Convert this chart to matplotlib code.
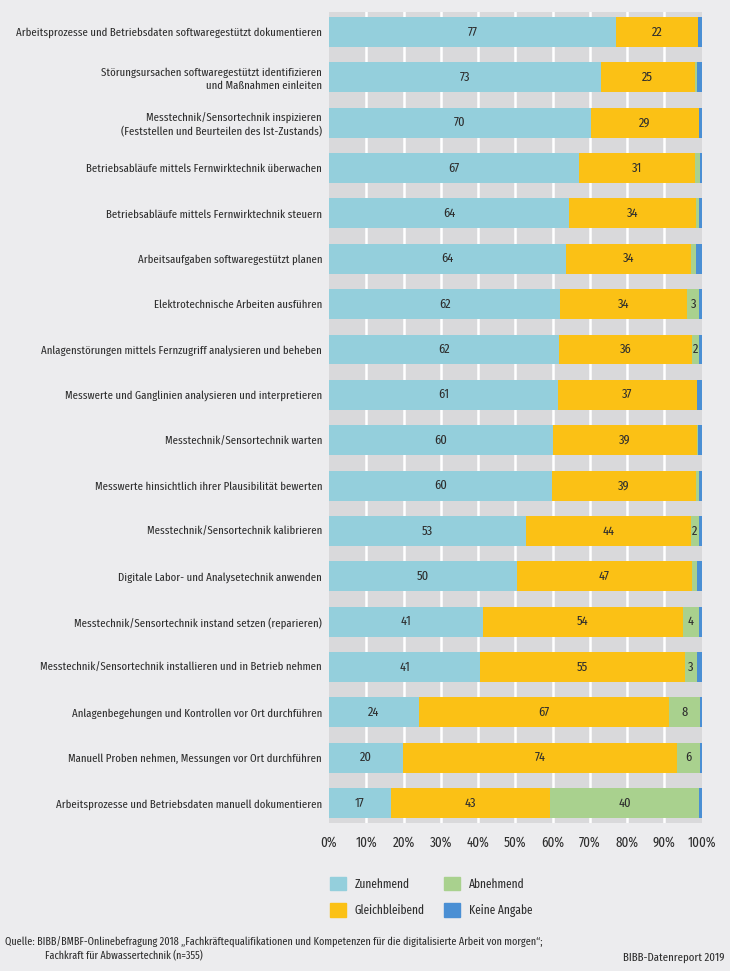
import matplotlib.pyplot as plt
from matplotlib import font_manager
from matplotlib.patches import Patch

# Daten (in Prozent, von oben nach unten)
taetigkeiten = [
    "Arbeitsprozesse und Betriebsdaten softwaregestützt dokumentieren",
    "Störungsursachen softwaregestützt identifizieren\nund Maßnahmen einleiten",
    "Messtechnik/Sensortechnik inspizieren\n(Feststellen und Beurteilen des Ist-Zustands)",
    "Betriebsabläufe mittels Fernwirktechnik überwachen",
    "Betriebsabläufe mittels Fernwirktechnik steuern",
    "Arbeitsaufgaben softwaregestützt planen",
    "Elektrotechnische Arbeiten ausführen",
    "Anlagenstörungen mittels Fernzugriff analysieren und beheben",
    "Messwerte und Ganglinien analysieren und interpretieren",
    "Messtechnik/Sensortechnik warten",
    "Messwerte hinsichtlich ihrer Plausibilität bewerten",
    "Messtechnik/Sensortechnik kalibrieren",
    "Digitale Labor- und Analysetechnik anwenden",
    "Messtechnik/Sensortechnik instand setzen (reparieren)",
    "Messtechnik/Sensortechnik installieren und in Betrieb nehmen",
    "Anlagenbegehungen und Kontrollen vor Ort durchführen",
    "Manuell Proben nehmen, Messungen vor Ort durchführen",
    "Arbeitsprozesse und Betriebsdaten manuell dokumentieren",
]
zunehmend = [77.0, 73.0, 70.2, 67.1, 64.4, 63.7, 62.1, 61.7, 61.4, 60.1,
             59.8, 52.8, 50.4, 41.3, 40.6, 24.1, 19.8, 16.6]
gleichbleibend = [22.1, 25.2, 29.0, 31.1, 34.1, 33.5, 34.1, 35.8, 37.4, 38.6,
                  38.6, 44.3, 47.1, 53.7, 54.9, 67.1, 73.6, 42.6]
abnehmend = [0.0, 0.7, 0.0, 1.3, 0.9, 1.4, 3.2, 1.8, 0.0, 0.4,
             0.8, 2.1, 1.3, 4.3, 3.4, 8.3, 6.1, 40.2]
keine_angabe = [0.9, 1.1, 0.8, 0.5, 0.6, 1.4, 0.6, 0.7, 1.2, 0.9,
                0.8, 0.8, 1.2, 0.7, 1.1, 0.5, 0.5, 0.6]

serien = [
    ("Zunehmend", zunehmend, "#94cfdc"),
    ("Gleichbleibend", gleichbleibend, "#fbc115"),
    ("Abnehmend", abnehmend, "#a9d18e"),
    ("Keine Angabe", keine_angabe, "#4a8fd4"),
]

# schmale Schrift suchen
vorhanden = {f.name for f in font_manager.fontManager.ttflist}
kandidaten = ["Fira Sans Extra Condensed", "Fira Sans Condensed", "PT Sans Narrow",
              "Roboto Condensed", "Liberation Sans Narrow", "Roboto"]
familie = next((k for k in kandidaten if k in vorhanden), "DejaVu Sans")
plt.rcParams["font.family"] = [familie, "DejaVu Sans"]
textfarbe = "#2e2e2e"

fig = plt.figure(figsize=(7.3, 9.71), dpi=100, facecolor="#ececee")

# Schriftgröße so wählen, dass die längste Beschriftung ca. 304 px breit ist
probe = fig.text(0, 0, taetigkeiten[0], fontsize=10)
breite = probe.get_window_extent(fig.canvas.get_renderer()).width
probe.remove()
gr = min(10 * 304 / breite, 9.5)
gr_leg = gr * 1.06
leg_px = gr_leg * 100 / 72

ax = fig.add_axes([0.4507, 0.1524, 0.5103, 0.8352], facecolor="#d9d9db")

y = list(range(len(taetigkeiten)))
links = [0.0] * len(taetigkeiten)
for name, werte, farbe in serien:
    ax.barh(y, werte, left=links, height=0.66, color=farbe, zorder=3)
    if name != "Keine Angabe":
        for i, (l, w) in enumerate(zip(links, werte)):
            if (name == "Abnehmend" and w < 1.5) or w == 0:
                continue
            ax.text(l + w / 2, i, f"{round(w):d}", ha="center", va="center",
                    fontsize=gr * 1.15, color=textfarbe, zorder=4)
    links = [l + w for l, w in zip(links, werte)]

ax.set_xlim(0, 100)
ax.set_ylim(len(taetigkeiten) - 1 + 0.44, -0.44)
ax.set_xticks(range(0, 101, 10))
ax.set_xticklabels([f"{t}%" for t in range(0, 101, 10)], fontsize=gr * 1.2, color=textfarbe)
ax.set_yticks(y)
ax.set_yticklabels(taetigkeiten, fontsize=gr, color=textfarbe, linespacing=1.3)
ax.tick_params(length=0, pad=5)
ax.tick_params(axis="x", pad=9)
for t in range(10, 100, 10):
    ax.axvline(t, color="white", lw=1.8, zorder=1)
for s in ax.spines.values():
    s.set_visible(False)

# Legende: zwei Spalten, je eine eigene Legende
handles = [Patch(color=f, label=n) for n, _, f in serien]
for spalte, x_px in ((0, 330), (1, 444)):
    paar = handles[2 * spalte:2 * spalte + 2]
    fig.legend(paar, [h.get_label() for h in paar],
               loc="upper left", bbox_to_anchor=(x_px / 730, 1 - 877 / 971),
               frameon=False, fontsize=gr_leg, borderpad=0, borderaxespad=0,
               handlelength=16 / leg_px, handleheight=16 / leg_px,
               labelspacing=12.7 / leg_px, handletextpad=8.5 / leg_px,
               labelcolor=textfarbe)

fig.text(0.007, 1 - 942 / 971,
         "Quelle: BIBB/BMBF-Onlinebefragung 2018 „Fachkräftequalifikationen und Kompetenzen für die digitalisierte Arbeit von morgen“;",
         fontsize=gr * 0.94, color=textfarbe, va="center")
fig.text(45 / 730, 1 - 956 / 971, "Fachkraft für Abwassertechnik (n=355)",
         fontsize=gr * 0.94, color=textfarbe, va="center")
fig.text(0.993, 1 - 958 / 971, "BIBB-Datenreport 2019", fontsize=gr, color=textfarbe,
         ha="right", va="center")

fig.savefig("out.png", dpi=100, facecolor=fig.get_facecolor())
